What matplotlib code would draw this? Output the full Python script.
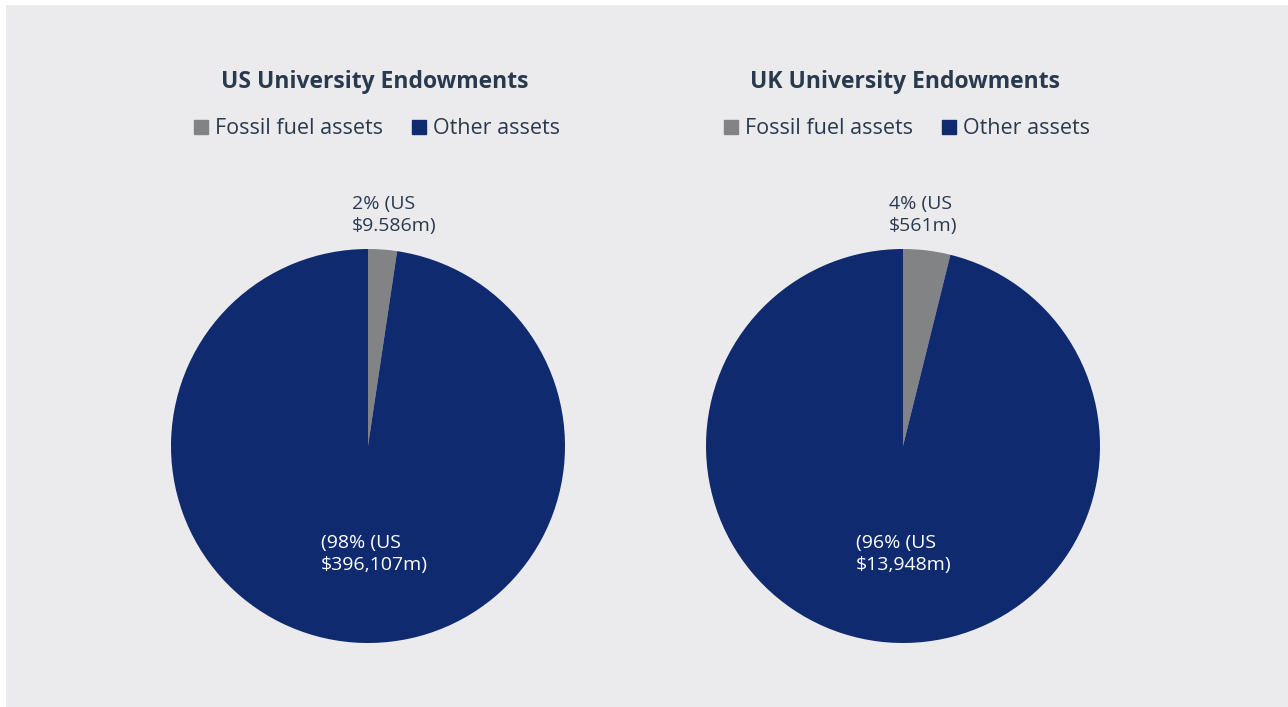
import matplotlib.pyplot as plt
from matplotlib.lines import Line2D
from matplotlib.patches import Rectangle

# data (US$ millions)
titles = ["US University Endowments", "UK University Endowments"]
categories = ["Fossil fuel assets", "Other assets"]
us_values = [9586, 396107]
uk_values = [561, 13948]
us_labels = ["2% (US\n$9.586m)", "(98% (US\n$396,107m)"]
uk_labels = ["4% (US\n$561m)", "(96% (US\n$13,948m)"]

colors = ["#828385", "#0f2a6e"]
text_color = "#2a3a4e"
bg = "#ebebed"

plt.rcParams['font.family'] = ['Open Sans', 'DejaVu Sans']

W, H = 1288, 707
fig = plt.figure(figsize=(W / 100, H / 100), dpi=100)
fig.patch.set_facecolor("white")
fig.add_artist(Rectangle((6 / W, 0), 1 - 6 / W, 1 - 5 / H, transform=fig.transFigure,
                         facecolor=bg, edgecolor="none", zorder=-10))

R = 197
# centre x, values, labels, fossil label x, other label x, title shift
panels = [
    (368, us_values, us_labels, -0.08, -0.24, 0.035),
    (903, uk_values, uk_labels, -0.07, -0.24, 0.01),
]

for i, (cx, values, labels, fx, ox, tx) in enumerate(panels):
    cy = 446
    ax = fig.add_axes([(cx - R) / W, (H - cy - R) / H, 2 * R / W, 2 * R / H])
    ax.patch.set_visible(False)
    ax.pie(values, colors=colors, startangle=90, counterclock=False, radius=1,
           wedgeprops=dict(linewidth=0))
    ax.set_xlim(-1, 1)
    ax.set_ylim(-1, 1)
    ax.set_aspect('equal')
    ax.axis('off')

    ax.text(tx, 1.817, titles[i], ha='center', va='baseline', fontsize=16.5,
            fontweight='bold', color=text_color, clip_on=False)

    handles = [Line2D([], [], marker='s', linestyle='none', markersize=9.5,
                      markerfacecolor=c, markeredgecolor=c) for c in colors]
    ax.legend(handles, categories, loc='center', bbox_to_anchor=(0.5 + tx / 2, 1.305),
              ncol=2, frameon=False, fontsize=15.5, labelcolor=text_color,
              handletextpad=0.15, columnspacing=1.15, handlelength=1.0)

    ax.text(fx, 1.275, labels[0], ha='left', va='top', fontsize=14,
            color=text_color, linespacing=1.3, clip_on=False)
    ax.text(ox, -0.445, labels[1], ha='left', va='top', fontsize=14,
            color="white", linespacing=1.3)

fig.savefig("out.png", dpi=100, facecolor=fig.get_facecolor())
